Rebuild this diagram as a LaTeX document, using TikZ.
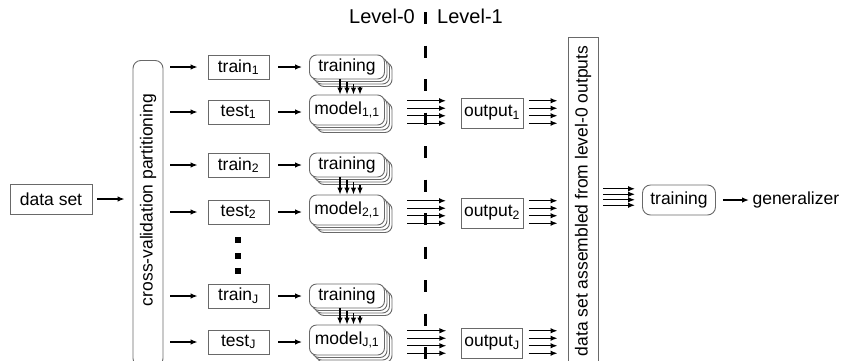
\documentclass[tikz,border=0pt]{standalone}
\usepackage{fontspec}
\setmainfont{Liberation Sans}
\usetikzlibrary{arrows.meta, shadows, calc}
\definecolor{boxgray}{RGB}{105,105,105}
\tikzset{
    box/.style = {draw = boxgray, line width = 0.9pt, minimum width = 61pt, minimum height = 24pt, inner sep = 3pt},
    stack/.style = {draw = boxgray, line width = 0.9pt, fill = white, rounded corners = 7pt,
        minimum width = 75pt, minimum height = 24pt, inner sep = 2pt,
        copy shadow = {shadow xshift = 7.5pt, shadow yshift = -7.5pt, draw = boxgray},
        copy shadow = {shadow xshift = 5pt, shadow yshift = -5pt, draw = boxgray},
        copy shadow = {shadow xshift = 2.5pt, shadow yshift = -2.5pt, draw = boxgray}},
    link/.style = {-{Latex[length = 7pt, width = 5.5pt]}, line width = 1.3pt},
}
\begin{document}
\begin{tikzpicture}[x = 1pt, y = -1pt, font = \fontsize{17.5pt}{21pt}\selectfont]
    \useasboundingbox (0, 0) rectangle (841, 360);

    % input and partitioning
    \node (ds) [box, minimum width = 82pt, minimum height = 30pt] at (51, 199) {data set};
    \node (cv) [draw = boxgray, line width = 0.9pt, rounded corners = 8pt, minimum width = 30pt,
        minimum height = 306pt, anchor = north] at (148, 60) {};
    \node (cvtext) [rotate = 90] at (148, 200) {cross-validation partitioning};
    \draw [link] ([xshift = 5pt]ds.east) -- ([xshift = -8pt]cv.west |- ds.east);

    % level-1 side
    \node (asm) [draw = boxgray, line width = 0.9pt, minimum width = 30pt,
        minimum height = 330pt, anchor = north] at (583, 37) {};
    \node (asmtext) [rotate = 90] at (583, 201) {data set assembled from level-0 outputs};
    \node (fin) [draw = boxgray, line width = 0.9pt, rounded corners = 8pt,
        minimum width = 73pt, minimum height = 30pt] at (679, 200) {training};
    \node (gen) [anchor = west] at (749, 200) {generalizer};

    \foreach \dy in {-8.25, -2.75, 2.75, 8.25}
        \draw [link] ($(asm.east |- fin.west) + (5, \dy - 3)$) -- ($(fin.west) + (-7, \dy - 3)$);
    \draw [link] ([xshift = 7pt]fin.east) -- (gen.west);

    % level split
    \coordinate (lvtop) at (425, 12);
    \coordinate (lvbot) at (425, 372);
    \draw [line width = 3pt, dash pattern = on 12pt off 21.5pt] (lvtop) -- (lvbot);
    \node (lv0) [anchor = east, inner sep = 1pt, font = \fontsize{20pt}{24pt}\selectfont] at (416, 16) {Level-0};
    \node (lv1) [anchor = west, inner sep = 1pt, font = \fontsize{20pt}{24pt}\selectfont] at (436, 16) {Level-1};

    % folds
    \foreach \j/\a/\b/\s in {1/67/112/1, 2/165/212/2, 3/296/342/J} {
        \node (trn\j) [box] at (238.5, \a) {train\textsubscript{\s}};
        \node (tst\j) [box] at (238.5, \b) {test\textsubscript{\s}};
        \node (trg\j) [stack] at (347, \a) {training};
        \node (mdl\j) [stack, minimum height = 30pt] at (347, \b - 2) {model\textsubscript{\s,1}};
        \node (out\j) [box, minimum height = 30pt] at (492, \b + 1) {output\textsubscript{\s}};

        \draw [link] ([xshift = 7pt]cv.east |- trn\j.west) -- ([xshift = -10pt]trn\j.west);
        \draw [link] ([xshift = 7pt]cv.east |- tst\j.west) -- ([xshift = -10pt]tst\j.west);
        \draw [link] ([xshift = 9pt]trn\j.east) -- ([xshift = -7pt]trg\j.west);
        \draw [link] ([xshift = 9pt]tst\j.east) -- ([xshift = -7pt]mdl\j.west |- tst\j.east);

        \foreach \k/\dx in {0/-7, 1/0, 2/6.5, 3/13}
            \draw [link] ([xshift = \dx pt, yshift = {-2.5*\k pt}]trg\j.south) -- ([xshift = \dx pt]mdl\j.north);

        \foreach \dy in {-11.25, -3.75, 3.75, 11.25} {
            \draw [link] ($(mdl\j.east |- out\j.west) + (22.5, \dy - 1)$) -- ($(out\j.west) + (-14.5, \dy - 1)$);
            \draw [link] ($(out\j.east) + (5.5, \dy - 1)$) -- ($(asm.west |- out\j.east) + (-10, \dy - 1)$);
        }
    }

    % gap between folds
    \foreach \y in {240, 255.5, 271}
        \fill (235, \y - 3) rectangle ++(6, 6);
\end{tikzpicture}
\end{document}
